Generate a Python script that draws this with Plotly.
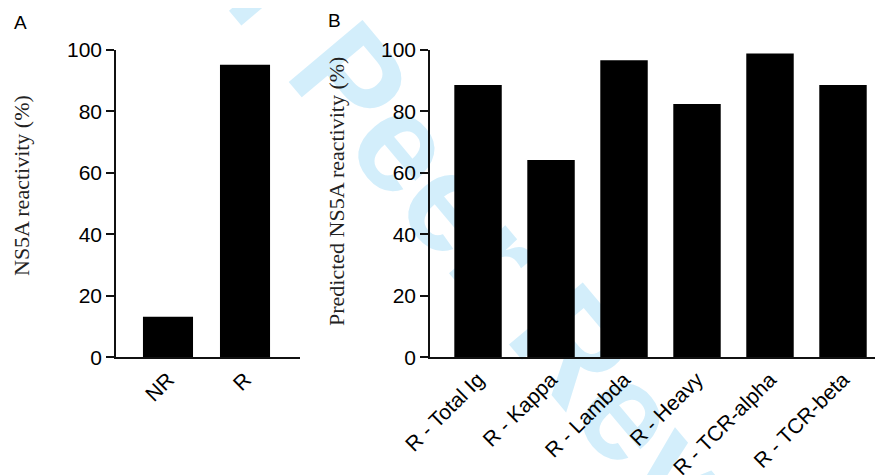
import plotly.graph_objects as go

# The page has an 8px body margin, so the figure is sized to fill the rest
OFF = 8
W, H = 883 - OFF, 475 - OFF

# Data
cats_a = ["NR", "R"]
vals_a = [13.2, 95.2]
cats_b = ["R - Total Ig", "R - Kappa", "R - Lambda", "R - Heavy", "R - TCR-alpha", "R - TCR-beta"]
vals_b = [88.6, 64.2, 96.7, 82.4, 98.9, 88.6]
yticks = [0, 20, 40, 60, 80, 100]

def px(x):
    return (x - OFF) / W

def py(y):
    return 1 - (y - OFF) / H

fig = go.Figure()
fig.add_trace(go.Bar(x=cats_a, y=vals_a, marker=dict(color="black", line=dict(width=0)),
                     xaxis="x", yaxis="y", showlegend=False))
fig.add_trace(go.Bar(x=cats_b, y=vals_b, marker=dict(color="black", line=dict(width=0)),
                     xaxis="x2", yaxis="y2", showlegend=False))

tickfont = dict(family="Liberation Sans, Arial", size=21, color="black")
axis_common = dict(showline=True, linecolor="#111", linewidth=1.5, showgrid=False,
                   zeroline=False, automargin=False)

fig.update_layout(
    template="none",
    width=W, height=H,
    margin=dict(l=0, r=0, t=0, b=0),
    paper_bgcolor="white", plot_bgcolor="rgba(0,0,0,0)",
    bargap=0.35,
    xaxis=dict(domain=[px(116), px(300)], range=[-0.675, 1.714], anchor="y",
               tickangle=-45, tickfont=tickfont, ticks="", **axis_common),
    yaxis=dict(domain=[py(357.3), py(50)], range=[0, 100], anchor="x",
               tickvals=yticks, ticks="outside", ticklen=8, tickwidth=1.5, tickcolor="#111",
               tickfont=tickfont, **axis_common),
    xaxis2=dict(domain=[px(430), 1.0], range=[-0.658, 5.548], anchor="y2",
                tickangle=-45, tickfont=tickfont, ticks="", **axis_common),
    yaxis2=dict(domain=[py(357.3), py(50)], range=[0, 100], anchor="x2",
                tickvals=yticks, ticks="outside", ticklen=8, tickwidth=1.5, tickcolor="#111",
                tickfont=tickfont, **axis_common),
)

titlefont = dict(family="Liberation Serif, Times New Roman", size=22, color="#222")
labfont = dict(family="Liberation Sans, Arial", size=19, color="black")
annots = [
    dict(text="NS5A reactivity (%)", x=px(21), y=py(186), textangle=-90, font=titlefont),
    dict(text="Predicted NS5A reactivity (%)", x=px(336), y=py(192), textangle=-90, font=titlefont),
    dict(text="A", x=px(20), y=py(22), font=labfont),
    dict(text="B", x=px(334), y=py(21), font=labfont),
]
for a in annots:
    fig.add_annotation(xref="paper", yref="paper", showarrow=False, xanchor="center", yanchor="middle", **a)

# Watermark behind the chart
cx, cy = 510, 250
fig.add_shape(type="rect", xref="paper", yref="paper", layer="below",
              x0=px(cx - 5), x1=px(cx + 5), y0=py(cy + 5), y1=py(cy - 5),
              line=dict(width=0), fillcolor="rgba(0,0,0,0)",
              label=dict(text="<b>For Peer Review</b>", textangle=50, textposition="middle center",
                         font=dict(family="Liberation Sans, Arial", size=140, color="#d3eefb")))

fig.write_html("out.html")
